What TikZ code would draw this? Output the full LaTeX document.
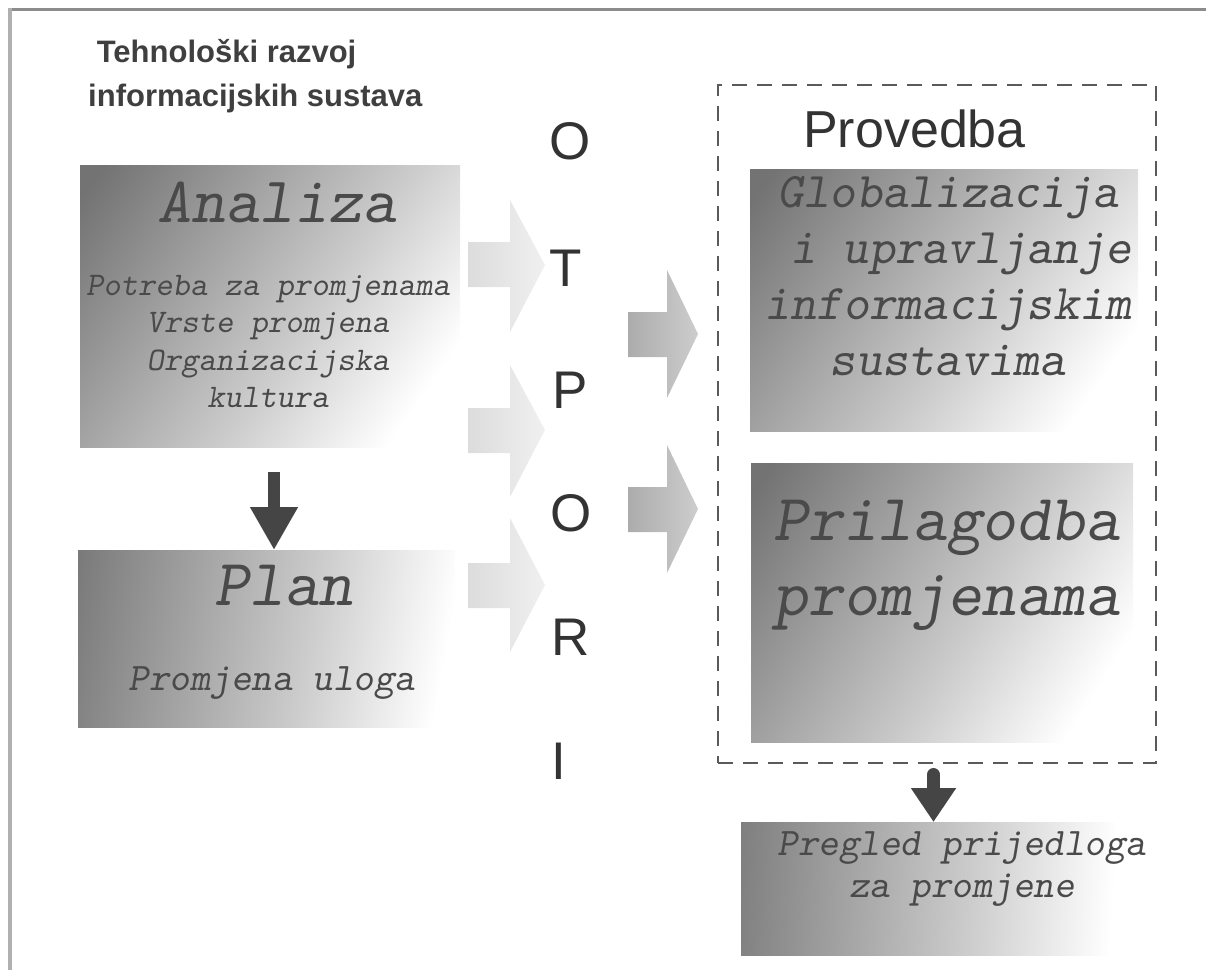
\documentclass[tikz,border=0pt]{standalone}
\usepackage{fontspec}
\setmainfont{Liberation Sans}
\usetikzlibrary{arrows.meta}
\definecolor{boxdark}{gray}{0.45}
\definecolor{boxmid}{gray}{0.8}
\definecolor{txtgray}{HTML}{4A4A4A}
\definecolor{ltrgray}{HTML}{333333}
\definecolor{titlegray}{HTML}{3F3F3F}
\definecolor{dashgray}{HTML}{5A5A5A}
\definecolor{arrdark}{HTML}{454545}
\definecolor{framedark}{HTML}{8C8C8C}
\definecolor{framelight}{HTML}{B0B0B0}
\definecolor{ltA}{HTML}{DCDCDC}
\definecolor{ltB}{HTML}{F0F0F0}
\definecolor{dkA}{HTML}{ACACAC}
\definecolor{dkB}{HTML}{CDCDCD}
\pgfdeclarehorizontalshading{boxsh}{100bp}{color(0bp)=(boxdark); color(18bp)=(boxdark); color(56bp)=(boxmid); color(76bp)=(white); color(100bp)=(white)}
\begin{document}
\begin{tikzpicture}[x=1pt,y=-1pt,
  gbox/.style={shade, shading=boxsh, inner sep=0pt, outer sep=0pt},
  mono/.style={text=txtgray, inner sep=0pt, outer sep=0pt},
  letter/.style={text=ltrgray, inner sep=0pt, anchor=base, font={\fontsize{53}{60}\selectfont}},
  ltarrow/.style={left color=ltA, right color=ltB},
  dkarrow/.style={left color=dkA, right color=dkB},
  downarrow/.style={draw=arrdark, line width=12pt}
]
\useasboundingbox (0,0) rectangle (1206,970);
% frame
\draw[framedark, line width=3pt] (8,9.5) -- (1206,9.5);
\draw[framelight, line width=4pt] (9.5,8) -- (9.5,970);

% title
\node[anchor=north west, align=left, inner sep=0pt, text=titlegray,
      font={\fontsize{31}{44}\selectfont\bfseries}] (title) at (88,31.2)
  {\strut\ Tehnološki razvoj\\informacijskih sustava};

% boxes
\node[gbox, shading angle=-35, minimum width=380pt, minimum height=282pt] (ana) at (270,306) {};
\node[gbox, shading angle=-10, minimum width=377pt, minimum height=177pt] (plan) at (266.5,638.5) {};
\node[gbox, shading angle=-35, minimum width=388pt, minimum height=262pt] (glob) at (944,300) {};
\node[gbox, shading angle=-32, minimum width=382pt, minimum height=279pt] (pril) at (942,602.5) {};
\node[gbox, shading angle=-4, minimum width=374pt, minimum height=133pt] (preg) at (928,888.5) {};

% dashed container
\node[draw=dashgray, dash pattern=on 15pt off 10pt, line width=2pt, inner sep=0pt,
      minimum width=438pt, minimum height=678pt] (prov) at (937,424) {};
\node[anchor=base west, inner sep=0pt, text=ltrgray, font={\fontsize{52}{60}\selectfont}] (provt) at (803,147) {Provedba};

% box texts
\node[mono, anchor=base, font={\fontsize{65}{68}\ttfamily\slshape}] (anat) at (277,222) {Analiza};
\node[mono, anchor=north, align=center, font={\fontsize{33}{37.5}\ttfamily\slshape}] (anas) at (268,268.75)
  {\strut Potreba za promjenama\\Vrste promjena\\Organizacijska\\kultura};
\node[mono, anchor=base, font={\fontsize{66}{68}\ttfamily\slshape}] (plant) at (284,605) {Plan};
\node[mono, anchor=base, font={\fontsize{39}{42}\ttfamily\slshape}] (plans) at (272,690) {Promjena uloga};
\node[mono, anchor=north, align=center, font={\fontsize{50}{55.7}\ttfamily\slshape}] (globt) at (948,169)
  {\strut Globalizacija\\\phantom{x}i upravljanje\\informacijskim\\sustavima};
\node[mono, anchor=north, align=center, font={\fontsize{66}{75}\ttfamily\slshape}] (prilt) at (947,487.5)
  {\strut Prilagodba\\promjenama};
\node[mono, anchor=north, align=center, font={\fontsize{39}{42}\ttfamily\slshape}] (pregt) at (962,825.6)
  {\strut Pregled prijedloga\\za promjene};

% OTPORI letters
\node[letter] (l1) at (570,159) {O};
\node[letter] (l2) at (566,286) {T};
\node[letter] (l3) at (570,408) {P};
\node[letter] (l4) at (571,531) {O};
\node[letter] (l5) at (571,655) {R};
\node[letter] (l6) at (559,779) {I};

% light block arrows
\shade[ltarrow] (468,242) -- (510,242) -- (510,200) -- (545,265) -- (510,332) -- (510,287) -- (468,287) -- cycle;
\shade[ltarrow] (468,408) -- (510,408) -- (510,365) -- (545,430) -- (510,497) -- (510,453) -- (468,453) -- cycle;
\shade[ltarrow] (468,563) -- (510,563) -- (510,518) -- (545,585) -- (510,652) -- (510,608) -- (468,608) -- cycle;
% darker block arrows
\shade[dkarrow] (628,312) -- (667,312) -- (667,270) -- (698,334) -- (667,398) -- (667,357) -- (628,357) -- cycle;
\shade[dkarrow] (628,487) -- (667,487) -- (667,445) -- (698,509) -- (667,573) -- (667,532) -- (628,532) -- cycle;

% down arrows
\coordinate (d1s) at (274,472);
\draw[downarrow, -{Triangle[width=45pt,length=43pt]}] (d1s) -- (d1s |- plan.north);
\coordinate (d2s) at (933.5,774.5);
\draw[downarrow, line width=13pt, line cap=round, -{Triangle[width=43pt,length=34pt]}] (d2s) -- (d2s |- preg.north);
\end{tikzpicture}
\end{document}
